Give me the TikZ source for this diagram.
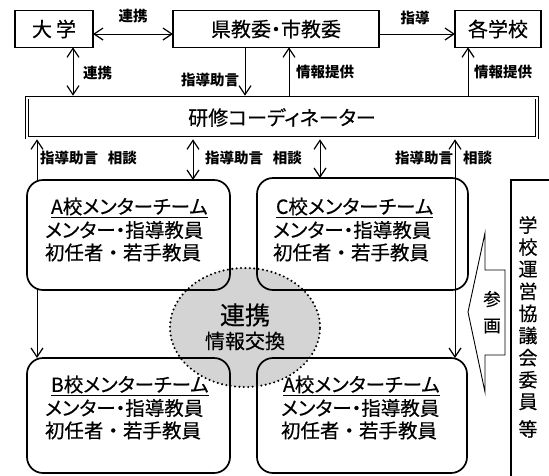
\documentclass[tikz,border=0pt]{standalone}
\usepackage{fontspec}
\newfontfamily\jp{Noto Sans CJK JP}[RawFeature={+palt}, FakeBold=0.35]
\newfontfamily\jpf{Noto Sans CJK JP}[FakeBold=0.35]
\newfontfamily\jpb{Noto Sans CJK JP}[RawFeature={+palt}]
\usetikzlibrary{arrows.meta,shapes.geometric}
\newcommand\jpsize[1]{\fontsize{#1}{#1}\selectfont}
\begin{document}
\begin{tikzpicture}[x=1pt,y=-1pt,
  every node/.style={inner sep=0pt, outer sep=0pt},
  topbox/.style={draw, line width=1.1pt, font=\jp\jpsize{20}},
  coordbox/.style={draw, double, double distance=2pt, line width=0.8pt, outer sep=1.8pt, font=\jp\jpsize{20}},
  lbl/.style={font=\jpb\bfseries\jpsize{14.5}},
  conn/.style={line width=0.9pt},
  one/.style={conn, arrows={-Straight Barb[length=9pt,width=12pt,line width=1.2pt]}},
  both/.style={conn, arrows={Straight Barb[length=9pt,width=12pt,line width=1.2pt]-Straight Barb[length=9pt,width=12pt,line width=1.2pt]}},
  team/.style={draw, line width=1.7pt, rounded corners=16pt},
  ttxt/.style={anchor=west, font=\jp\jpsize{19.5}},
  link/.style={draw, ellipse, fill=black!17, line width=2.3pt, dash pattern=on 0pt off 4.4pt, line cap=round},
  vch/.style={font=\jpf\jpsize{19}},
]
\useasboundingbox (0,0) rectangle (549,475);

% column coordinates
\coordinate (c37) at (37,0);
\coordinate (c73) at (73,0);
\coordinate (c193) at (193,0);
\coordinate (c245) at (245,0);
\coordinate (c289) at (289,0);
\coordinate (c320) at (320,0);
\coordinate (c455) at (455,0);
\coordinate (c468) at (468,0);

% top row
\node[topbox, minimum width=78pt, minimum height=36.5pt] (univ) at (54,29) {大\hspace{4pt}学};
\node[topbox, minimum width=206pt, minimum height=36.5pt] (board) at (276,29) {県教委・市教委};
\node[topbox, minimum width=86pt, minimum height=36.5pt] (school) at (498,29) {各学校};

% coordinator
\node[coordbox, minimum width=510pt, minimum height=40pt] (coord) at (282,117.5) {研修コーディネーター};

% top connectors
\draw[both] ([yshift=-5pt]univ.east) -- ([yshift=-5pt]board.west);
\draw[one] ([yshift=-5pt]board.east) -- ([yshift=-5pt]school.west);
\draw[both] (univ.south -| c73) -- (coord.north -| c73);
\draw[one] (board.south -| c245) -- (coord.north -| c245);
\draw[one] (coord.north -| c289) -- (board.south -| c289);
\draw[one] (coord.north -| c468) -- (school.south -| c468);

\node[lbl] (l1) at (133,16) {連携};
\node[lbl] (l2) at (415,18) {指導};
\node[lbl, anchor=west] (l3) at (83,73) {連携};
\node[lbl, anchor=east] (l4) at (239,80) {指導助言};
\node[lbl, anchor=west] (l5) at (296,72) {情報提供};
\node[lbl, anchor=west] (l6) at (474,72) {情報提供};

% link ellipse
\node[link, minimum width=150pt, minimum height=119pt] (link) at (245,327.5) {};
\node[font=\jp\jpsize{25}] (linkA) at (245,315) {連携};
\node[font=\jp\jpsize{20}] (linkB) at (245,341) {情報交換};

% team boxes
\node[team, minimum width=203pt, minimum height=110pt] (tA) at (128.5,235) {};
\node[team, minimum width=211pt, minimum height=112pt] (tC) at (362.5,234) {};
\node[team, minimum width=203pt, minimum height=115pt] (tB) at (128.5,415.5) {};
\node[team, minimum width=210pt, minimum height=115pt] (tA2) at (362,415.5) {};

\node[ttxt] (tA1) at (51,207.5) {\underline{A校メンターチーム}};
\node[ttxt] (tA2t) at (45,230) {メンター・指導教員};
\node[ttxt, font=\jpf\jpsize{19.5}] (tA3) at (45,252.5) {初任者・若手教員};
\node[ttxt] (tC1) at (276,207.5) {\underline{C校メンターチーム}};
\node[ttxt] (tC2) at (273,230) {メンター・指導教員};
\node[ttxt, font=\jpf\jpsize{19.5}] (tC3) at (273,252.5) {初任者・若手教員};
\node[ttxt] (tB1) at (51,385.5) {\underline{B校メンターチーム}};
\node[ttxt] (tB2) at (45,408) {メンター・指導教員};
\node[ttxt, font=\jpf\jpsize{19.5}] (tB3) at (45,430.5) {初任者・若手教員};
\node[ttxt] (tD1) at (283,385.5) {\underline{A校メンターチーム}};
\node[ttxt] (tD2) at (281,408) {メンター・指導教員};
\node[ttxt, font=\jpf\jpsize{19.5}] (tD3) at (281,430.5) {初任者・若手教員};

% lower connectors
\draw[one] (tA.north -| c37) -- (coord.south -| c37);
\draw[one] (tA.south -| c37) -- (tB.north -| c37);
\draw[both] (coord.south -| c193) -- (tA.north -| c193);
\draw[both] (coord.south -| c320) -- (tC.north -| c320);
\draw[both] (coord.south -| c455) -- (tA2.north -| c455);

\node[lbl, anchor=west] (m1) at (40,158) {指導助言\hspace{10pt}相談};
\node[lbl, anchor=west] (m2) at (205,158) {指導助言\hspace{10pt}相談};
\node[lbl, anchor=east] (m3) at (453,158) {指導助言};
\node[lbl, anchor=west] (m4) at (463,158) {相談};

% participation arrow
\draw[line width=0.9pt] (485,233) -- (485,270) -- (505,270) -- (505,355) -- (485,355) -- (485,392) -- (468,312) -- cycle;
\node[font=\jpf\jpsize{17.5}] (san) at (492,299) {参};
\node[font=\jpf\jpsize{17.5}] (kaku) at (492,326) {画};

% council box
\node[draw, line width=1.1pt, minimum width=60pt, minimum height=310pt, anchor=north west] (council) at (511,180) {};
\foreach \ch [count=\i] in {学,校,運,営,協,議,会,委,員}
  \node[vch] (v\i) at (528,{225+22.1*(\i-1)}) {\ch};
\node[vch] (vend) at (528,429) {等};
\end{tikzpicture}
\end{document}
